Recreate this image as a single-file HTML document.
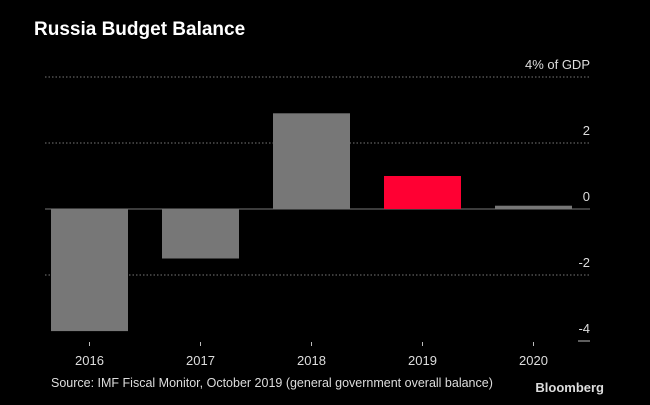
<!DOCTYPE html>
<html><head><meta charset="utf-8"><style>
body{margin:0;background:#000;width:650px;height:400px;overflow:hidden;font-family:"Liberation Sans",sans-serif}
</style></head><body>
<svg id="chart" width="650" height="400" xmlns="http://www.w3.org/2000/svg">
<rect width="650" height="400" fill="#000"/>
<text x="34" y="35" fill="#fff" font-size="19" font-weight="bold">Russia Budget Balance</text>
<g id="grid"></g><g id="bars"></g><g id="xaxis"></g>
<text x="51" y="387" fill="#ddd" font-size="12.5">Source: IMF Fiscal Monitor, October 2019 (general government overall balance)</text>
<text x="604" y="392" fill="#ddd" font-size="13" font-weight="bold" text-anchor="end">Bloomberg</text>
</svg>
<script>
const categories=["2016","2017","2018","2019","2020"];
const values=[-3.7,-1.5,2.9,1.0,0.1];
const highlight=[false,false,false,true,false];
const ticks=[4,2,0,-2,-4];
const tickLabels=["4% of GDP","2","0","-2","-4"];
const NS="http://www.w3.org/2000/svg";
const y=v=>209-v*33;
const x=i=>89.5+i*111;
const bw=77;
function mk(t,a,p){const e=document.createElementNS(NS,t);for(const k in a)e.setAttribute(k,a[k]);document.getElementById(p).appendChild(e);return e;}
ticks.forEach((t,i)=>{
  let l;
  if(t===0) l=mk("line",{x1:45,x2:590,y1:y(t),y2:y(t),stroke:"#777","stroke-width":1},"grid");
  else if(t===-4) l=mk("line",{x1:578,x2:590,y1:y(t),y2:y(t),stroke:"#bbb","stroke-width":1},"grid");
  else l=mk("line",{x1:45,x2:590,y1:y(t),y2:y(t),stroke:"#777","stroke-width":1,"stroke-dasharray":"1.5,2"},"grid");
  
  
  const tx=mk("text",{x:590,y:y(t)-8,fill:"#ddd","font-size":13,"text-anchor":"end"},"grid");
  tx.textContent=tickLabels[i];
  
  
});
values.forEach((v,i)=>{
  const top=Math.min(y(v),y(0)),h=Math.abs(y(v)-y(0));
  const r=mk("rect",{x:x(i)-bw/2,y:top,width:bw,height:Math.max(h,1),fill:highlight[i]?"#ff0033":"#777"},"bars");
  
  
  const tk=mk("line",{x1:x(i),x2:x(i),y1:342,y2:346,stroke:"#bbb"},"xaxis");
  
  
  const tx=mk("text",{x:x(i),y:365,fill:"#ddd","font-size":13,"text-anchor":"middle"},"xaxis");
  tx.textContent=categories[i];
  
  
});
</script>
</body></html>
